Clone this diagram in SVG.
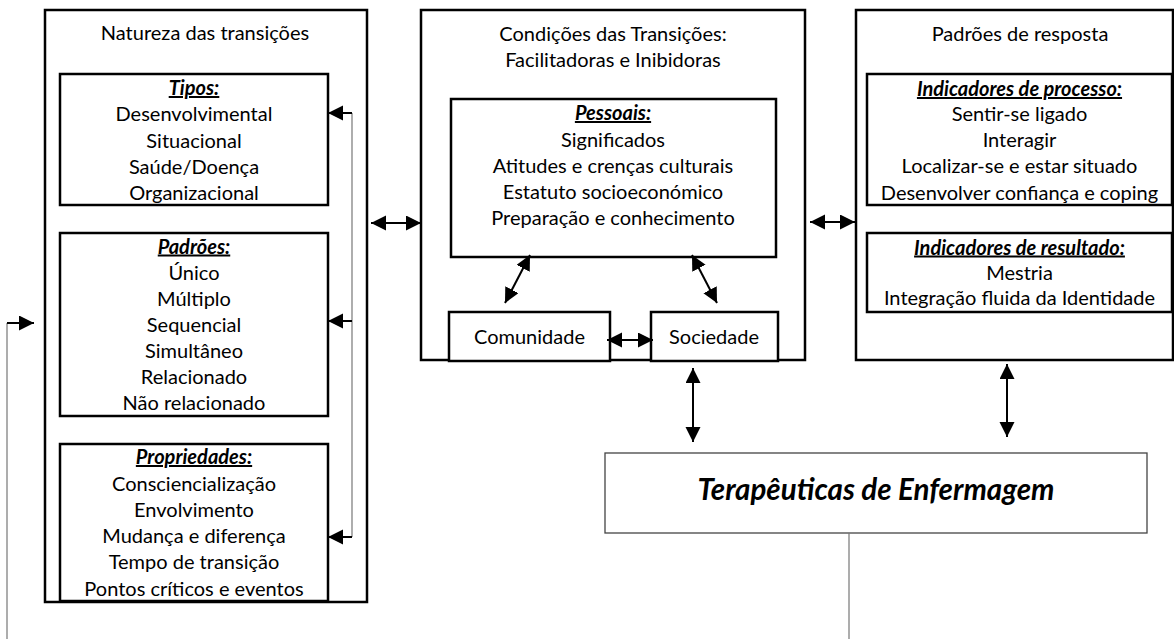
<svg xmlns="http://www.w3.org/2000/svg" width="1174" height="639" viewBox="0 0 1174 639">
<style>
.box{fill:#fff;stroke:#000;stroke-width:2.5}
.tbox{fill:#fff;stroke:#444;stroke-width:1.3}
.t{font-family:Lato,"Liberation Sans",sans-serif;font-size:20px;text-anchor:middle;fill:#000}
.h{font-weight:bold;font-style:italic;text-decoration:underline}
.big{font-family:Lato,"Liberation Sans",sans-serif;font-size:29.5px;font-weight:bold;font-style:italic;text-anchor:middle;fill:#000}
.c{fill:none;stroke:#000;stroke-width:2}
.g{fill:none;stroke:#777;stroke-width:1.2}
.da{marker-start:url(#ah);marker-end:url(#ah)}
.sa{marker-end:url(#ah)}
</style>
<defs>
<marker id="ah" markerUnits="userSpaceOnUse" markerWidth="16" markerHeight="16" refX="15" refY="7.5" orient="auto-start-reverse" viewBox="0 0 16 16">
<path d="M0,0 L15,7.5 L0,15 z" fill="#000"/>
</marker>
</defs>
<rect width="1174" height="639" fill="#fff"/>

<g id="natureza">
<rect class="box" x="45" y="10" width="322" height="592"/>
<text class="t" x="205" y="40">Natureza das transições</text>
</g>
<g id="tipos">
<rect class="box" x="60" y="74" width="268" height="131"/>
<text class="t h" x="194" y="95">Tipos:</text>
<text class="t" x="194" y="121">Desenvolvimental</text>
<text class="t" x="194" y="147.5">Situacional</text>
<text class="t" x="194" y="174">Saúde/Doença</text>
<text class="t" x="194" y="200">Organizacional</text>
</g>
<g id="padroes">
<rect class="box" x="60" y="233" width="268" height="183"/>
<text class="t h" x="194" y="253.5">Padrões:</text>
<text class="t" x="194" y="279.5">Único</text>
<text class="t" x="194" y="305.5">Múltiplo</text>
<text class="t" x="194" y="331.5">Sequencial</text>
<text class="t" x="194" y="357.5">Simultâneo</text>
<text class="t" x="194" y="384">Relacionado</text>
<text class="t" x="194" y="410">Não relacionado</text>
</g>
<g id="propriedades">
<rect class="box" x="60" y="444" width="268" height="157"/>
<text class="t h" x="194" y="464">Propriedades:</text>
<text class="t" x="194" y="490.5">Consciencialização</text>
<text class="t" x="194" y="517">Envolvimento</text>
<text class="t" x="194" y="543">Mudança e diferença</text>
<text class="t" x="194" y="569">Tempo de transição</text>
<text class="t" x="194" y="595.5">Pontos críticos e eventos</text>
</g>

<g id="condicoes">
<rect class="box" x="421" y="10" width="384" height="350"/>
<text class="t" x="613" y="40.5">Condições das Transições:</text>
<text class="t" x="613" y="67">Facilitadoras e Inibidoras</text>
</g>
<g id="pessoais">
<rect class="box" x="451" y="99" width="325" height="158"/>
<text class="t h" x="613" y="120">Pessoais:</text>
<text class="t" x="613" y="146.5">Significados</text>
<text class="t" x="613" y="172.7">Atitudes e crenças culturais</text>
<text class="t" x="613" y="199">Estatuto socioeconómico</text>
<text class="t" x="613" y="225">Preparação e conhecimento</text>
</g>
<g id="comunidade">
<rect class="box" x="449" y="312" width="161" height="49"/>
<text class="t" x="529.5" y="343.5">Comunidade</text>
</g>
<g id="sociedade">
<rect class="box" x="651" y="312" width="127" height="49"/>
<text class="t" x="714" y="343.5">Sociedade</text>
</g>

<g id="padroes-resposta">
<rect class="box" x="856" y="10" width="317" height="350"/>
<text class="t" x="1020" y="40.5">Padrões de resposta</text>
</g>
<g id="processo">
<rect class="box" x="867" y="74" width="305" height="131"/>
<text class="t h" x="1019.5" y="96">Indicadores de processo:</text>
<text class="t" x="1019.5" y="120.5">Sentir-se ligado</text>
<text class="t" x="1019.5" y="147">Interagir</text>
<text class="t" x="1019.5" y="173">Localizar-se e estar situado</text>
<text class="t" x="1019.5" y="199.5">Desenvolver confiança e coping</text>
</g>
<g id="resultado">
<rect class="box" x="867" y="233" width="305" height="79"/>
<text class="t h" x="1019.5" y="254.5">Indicadores de resultado:</text>
<text class="t" x="1019.5" y="279.5">Mestria</text>
<text class="t" x="1019.5" y="305">Integração fluida da Identidade</text>
</g>

<g id="terapeuticas">
<rect class="tbox" x="605" y="453" width="542" height="80"/>
<text class="big" x="876" y="499.5">Terapêuticas de Enfermagem</text>
</g>

<g id="connectors">
<path class="g" d="M352,113 V537"/>
<path class="c sa" d="M352,113 H328"/>
<path class="c sa" d="M352,321 H328"/>
<path class="c sa" d="M352,537 H328"/>
<path class="g" d="M849,533 V645 H7 V323"/>
<path class="c sa" d="M7,323 H34"/>
<path class="c da" d="M371,223 H421"/>
<path class="c da" d="M810,222 H855"/>
<path class="c da" d="M607,340 H653"/>
<path class="c da" d="M530,255 L505,303"/>
<path class="c da" d="M692,255 L717,303"/>
<path class="c da" d="M693,368 V442"/>
<path class="c da" d="M1007,364 V437"/>
</g>
</svg>
